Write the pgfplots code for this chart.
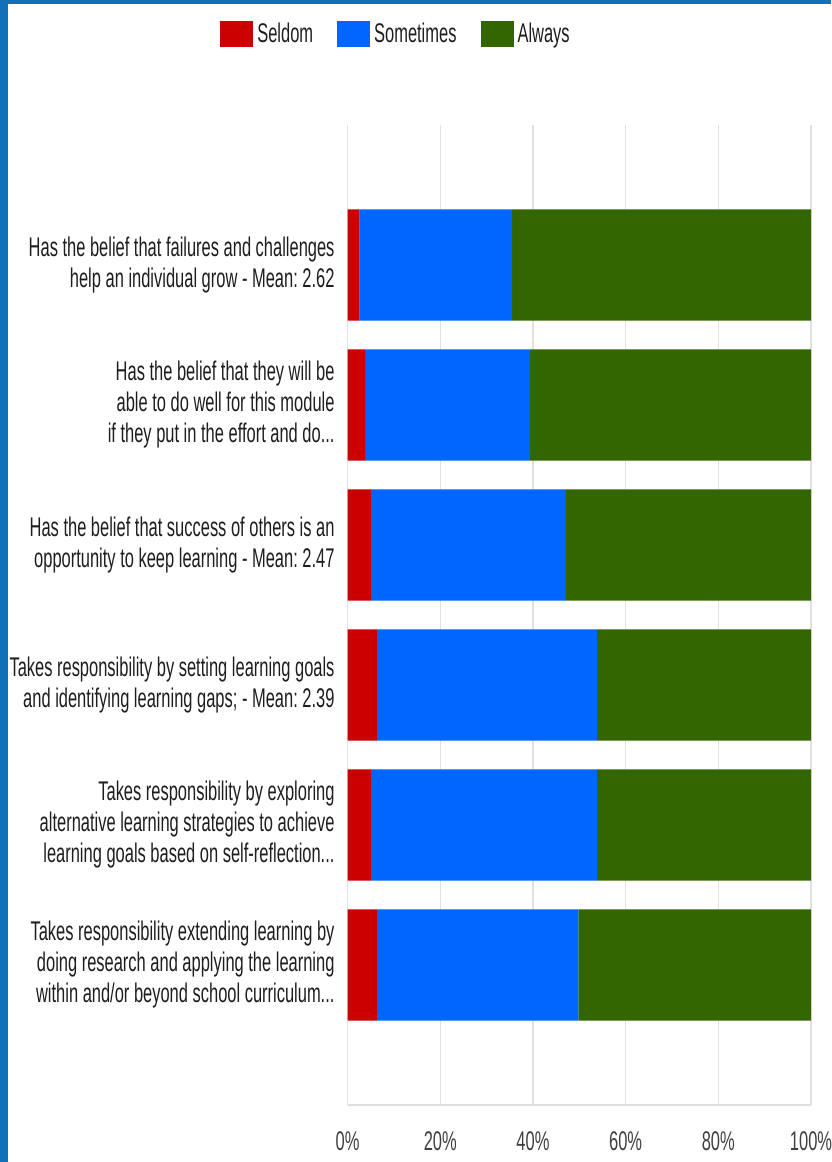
\documentclass[border=0pt]{standalone}
\usepackage{pgfplots}
\pgfplotsset{compat=1.18}
\usepackage{fontspec}
\setmainfont{Liberation Sans}[FakeStretch=0.61]
\frenchspacing
\definecolor{cRed}{RGB}{204,0,0}
\definecolor{cBlue}{RGB}{0,102,255}
\definecolor{cGreen}{RGB}{51,102,0}
\definecolor{frameblue}{RGB}{18,112,185}
\definecolor{gridgray}{RGB}{225,225,225}
\definecolor{txt}{RGB}{30,30,30}
\newcommand{\dd}{.\kern0pt.\kern0pt.}
\begin{document}
\begin{tikzpicture}
\path[use as bounding box, fill=white] (0,0) rectangle (415.5pt,581pt);
\fill[frameblue] (0,0) rectangle (4pt,581pt);
\fill[frameblue] (0,579pt) rectangle (415.5pt,581pt);
\begin{axis}[
  at={(173.8pt,28.5pt)}, anchor=south west,
  scale only axis, width=231.7pt, height=490pt,
  xbar stacked, bar width=0.793,
  xmin=0, xmax=100, ymin=0, ymax=7,
  xtick={0,20,40,60,80,100},
  xticklabels={0\%,20\%,40\%,60\%,80\%,100\%},
  ytick={1,2,3,4,5,6},
  yticklabels={
    {Takes responsibility extending learning by\\doing research and applying the learning\\within and/or beyond school curriculum\dd},
    {Takes responsibility by exploring\\alternative learning strategies to achieve\\learning goals based on self-reflection\dd},
    {Takes responsibility by setting learning goals\\and identifying learning gaps; - Mean: 2.39},
    {Has the belief that success of others is an\\opportunity to keep learning - Mean: 2.47},
    {Has the belief that they will be\\able to do well for this module\\if they put in the effort and do\dd},
    {Has the belief that failures and challenges\\help an individual grow - Mean: 2.62}},
  yticklabel style={align=right, font=\fontsize{13.5}{15.5}\selectfont\frenchspacing, text=txt, xshift=-3pt},
  xticklabel style={font=\fontsize{13.5}{15.5}\selectfont, text=txt!85, yshift=-10pt},
  major tick length=0pt,
  axis line style={draw=none},
  xmajorgrids, grid style={gridgray, line width=0.6pt},
  legend style={draw=none, fill=none, at={(axis description cs:0.1066,1.093)}, anchor=center,
    legend columns=3, font=\fontsize{13.5}{15.5}\selectfont, text=txt,
    /tikz/every even column/.append style={column sep=10pt}},
  legend cell align=left,
  legend image code/.code={\path[#1, draw=none] (0pt,-6.5pt) rectangle (16.5pt,6.5pt);},
]
\addplot[fill=cRed, draw=none] coordinates {(6.3,1) (5.0,2) (6.3,3) (5.0,4) (3.8,5) (2.6,6)};
\addplot[fill=cBlue, draw=none] coordinates {(43.5,1) (48.8,2) (47.5,3) (42.1,4) (35.6,5) (32.9,6)};
\addplot[fill=cGreen, draw=none] coordinates {(50.2,1) (46.2,2) (46.2,3) (52.9,4) (60.6,5) (64.5,6)};
\legend{Seldom,Sometimes,Always}
\draw[gray!25, line width=1.5pt] (axis cs:0,0) -- (axis cs:100,0);
\end{axis}
\end{tikzpicture}
\end{document}
